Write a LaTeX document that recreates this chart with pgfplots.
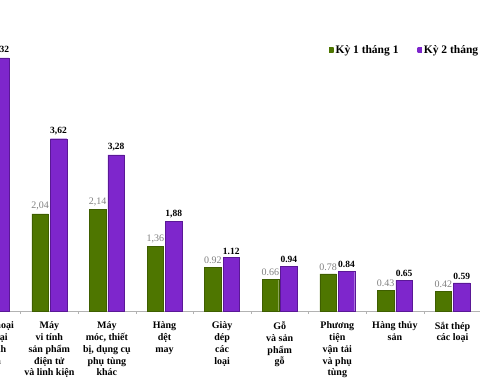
\documentclass[border=0pt]{standalone}
\usepackage{fontspec}
\setmainfont{Liberation Serif}
\usepackage{pgfplots}
\pgfplotsset{compat=1.18}
\definecolor{gmid}{HTML}{6E9E06}
\definecolor{gedge}{HTML}{4E7600}
\definecolor{gdark}{HTML}{3E5E00}
\definecolor{pmid}{HTML}{A448FA}
\definecolor{pedge}{HTML}{7E26CC}
\definecolor{pdark}{HTML}{5A1896}
\begin{document}
\begin{tikzpicture}
\begin{axis}[
  at={(-42.85pt,73pt)}, anchor=south west,
  scale only axis, width=522.8pt, height=311pt,
  xmin=-0.6, xmax=8.477, ymin=0, ymax=6.534,
  ybar, bar width=0.286,
  axis x line=bottom, axis y line=none,
  x axis line style={draw=gray!60, -},
  ytick=\empty,
  xtick={0,...,8},
  xticklabels={{Điện thoại\\các loại\\và linh\\kiện},
    {Máy\\vi tính\\sản phẩm\\điện tử\\và linh kiện},
    {Máy\\móc, thiết\\bị, dụng cụ\\phụ tùng\\khác},
    {Hàng\\dệt\\may},
    {Giày\\dép\\các\\loại},
    {Gỗ\\và sản\\phẩm\\gỗ},
    {Phương\\tiện\\vận tải\\và phụ\\tùng},
    {Hàng thủy\\sản},
    {Sắt thép\\các loại}},
  major x tick style={draw=none},
  minor xtick={-0.5,0.5,...,8.5},
  minor tick length=3pt, tick align=outside,
  minor x tick style={draw=gray!60},
  xticklabel style={align=center, font=\fontsize{10}{11.8}\selectfont\bfseries, yshift=-3pt},
  nodes near coords, point meta=explicit symbolic,
  legend style={at={(0.7055,0.839)}, anchor=west, draw=none, fill=none,
    font=\fontsize{11.5}{12}\selectfont\bfseries,
    /tikz/every even column/.append style={column sep=17pt}},
  legend columns=2, legend cell align=left,
  legend image code/.code={\draw[#1, draw=none] (0pt,-2.2pt) rectangle (4.4pt,2.2pt);},
]
\addplot[draw=gdark, left color=gedge, middle color=gmid, right color=gedge,
  bar shift=-0.16,
  every node near coord/.append style={font=\fontsize{10}{10}\selectfont, text=gray}]
  coordinates {(1,2.04) [2,04] (2,2.14) [2,14] (3,1.36) [1,36] (4,0.92) [0.92]
   (5,0.66) [0.66] (6,0.78) [0.78] (7,0.43) [0.43] (8,0.42) [0.42]};
\addlegendentry{Kỳ 1 tháng 1}
\addplot[draw=pdark, left color=pedge, middle color=pmid, right color=pedge,
  bar shift=0.16,
  every node near coord/.append style={font=\fontsize{9.5}{10}\selectfont\bfseries, text=black}]
  coordinates {(0,5.32) [5,32] (1,3.62) [3,62] (2,3.28) [3,28] (3,1.88) [1,88] (4,1.12) [1.12]
   (5,0.94) [0.94] (6,0.84) [0.84] (7,0.65) [0.65] (8,0.59) [0.59]};
\addlegendentry{Kỳ 2 tháng 1}
\end{axis}
\pgfresetboundingbox
\path[use as bounding box] (0pt,0pt) rectangle (480pt,384pt);
\end{tikzpicture}
\end{document}
